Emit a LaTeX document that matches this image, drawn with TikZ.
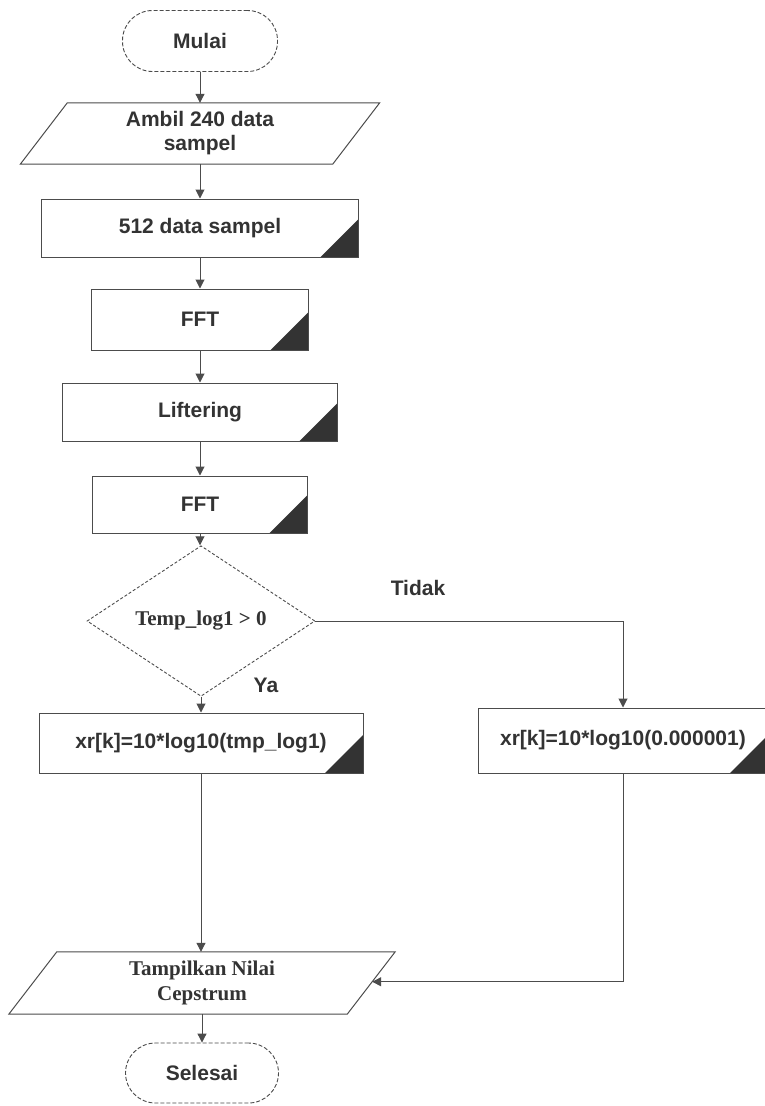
\documentclass[tikz,border=0pt]{standalone}
\usepackage{fontspec}
\setmainfont{Liberation Serif}
\setsansfont{Liberation Sans}
\usetikzlibrary{shapes.geometric,arrows.meta,calc}

\begin{document}
\begin{tikzpicture}[x=1pt,y=-1pt,
  every node/.append style={text=black!80, inner sep=0pt,
    font=\sffamily\bfseries\fontsize{21}{24}\selectfont},
  line/.style={draw=black!70, line width=1pt},
  arrow/.style={line, -{Triangle[length=9pt,width=9pt]}},
  term/.style={rectangle, draw=black!70, line width=0.9pt,
    dash pattern=on 4pt off 2pt, rounded corners=30pt,
    minimum width=155pt, minimum height=61pt},
  procbox/.style={rectangle, draw=black!70, line width=1pt, minimum height=58pt,
    path picture={\fill[black!80] (path picture bounding box.south east)
      -- ++(-38pt,0pt) -- ++(38pt,38pt) -- cycle;}},
  iobox/.style={rectangle, align=center, minimum height=61pt},
  decision/.style={diamond, draw=black!70, line width=0.9pt,
    dash pattern=on 3pt off 2pt, minimum width=228pt, minimum height=137pt,
    font=\rmfamily\bfseries\fontsize{21}{24}\selectfont},
  serif/.style={font=\rmfamily\bfseries\fontsize{21}{25}\selectfont}
]
\useasboundingbox[fill=white] (0,0) rectangle (765,1106);

% main column
\node[term] (start) at (200,41) {Mulai};

\node[iobox, minimum width=312pt] (in) at (200,133.5) {Ambil 240 data\\sampel};
\draw[line] ([xshift=23.5pt]in.north west) -- ([xshift=23.5pt]in.north east)
  -- ([xshift=-23.5pt]in.south east) -- ([xshift=-23.5pt]in.south west) -- cycle;

\node[procbox, minimum width=317pt] (pad) at (200,228) {512 data sampel};
\node[procbox, minimum width=217pt, minimum height=61pt] (fft1) at (200,319.5) {FFT};
\node[procbox, minimum width=275pt] (lift) at (200,412) {Liftering};
\node[procbox, minimum width=215pt, minimum height=57pt] (fft2) at (200,504.5) {FFT};

\node[decision] (cond) at (201,621) {Temp\_log1 > 0};
\node (tidak) at (418,588) {Tidak};
\node (ya) at (266,685) {Ya};

\node[procbox, minimum width=324pt, minimum height=60pt] (xr1) at (201,743)
  {xr[k]=10*log10(tmp\_log1)};
\node[procbox, minimum width=290pt, minimum height=65pt] (xr2) at (623,740.5)
  {xr[k]=10*log10(0.000001)};

\node[iobox, serif, minimum width=338pt, minimum height=62pt] (out) at (202,983)
  {Tampilkan Nilai\\Cepstrum};
\draw[line] ([xshift=24pt]out.north west) -- ([xshift=24pt]out.north east)
  -- ([xshift=-24pt]out.south east) -- ([xshift=-24pt]out.south west) -- cycle;
\coordinate (outR) at ($([xshift=24pt]out.north east)!0.48!([xshift=-24pt]out.south east)$);

\node[term, minimum width=153pt, minimum height=60pt] (stop) at (202,1073) {Selesai};

% connectors
\draw[arrow] (start.south) -- (start.south |- in.north);
\draw[arrow] (in.south) -- (in.south |- pad.north);
\draw[arrow] (pad.south) -- (pad.south |- fft1.north);
\draw[arrow] (fft1.south) -- (fft1.south |- lift.north);
\draw[arrow] (lift.south) -- (lift.south |- fft2.north);
\draw[arrow] (fft2.south) -- (fft2.south |- cond.north);
\draw[arrow] (cond.south) -- (cond.south |- xr1.north);
\draw[arrow] (cond.east) -| (xr2.north);
\draw[arrow] (xr1.south) -- (xr1.south |- out.north);
\draw[arrow] (xr2.south) |- (outR);
\draw[arrow] (out.south -| stop.north) -- (stop.north);
\end{tikzpicture}
\end{document}
